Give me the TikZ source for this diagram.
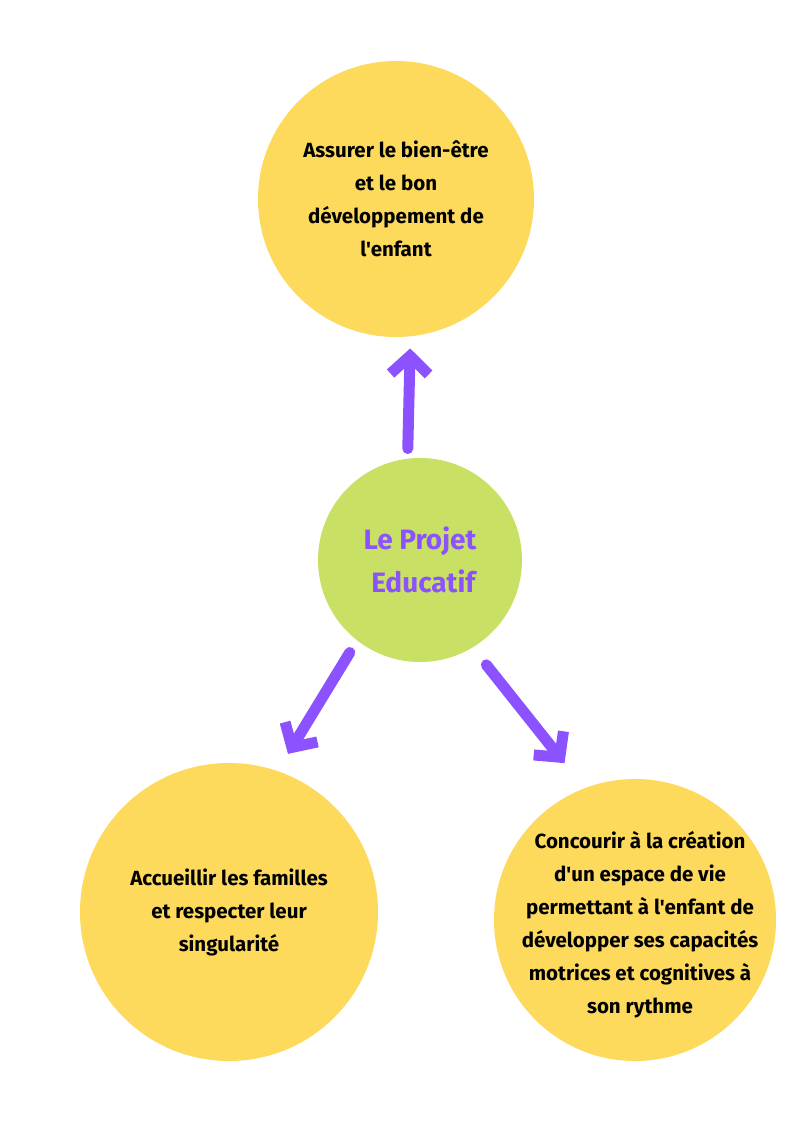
\documentclass[tikz,border=0pt]{standalone}
\usepackage{fontspec}
\setmainfont{Fira Sans}[Ligatures=TeXOff]
\usetikzlibrary{arrows.meta}
\definecolor{soleil}{HTML}{FDD95C}
\definecolor{pomme}{HTML}{C8E063}
\definecolor{lilas}{HTML}{8C52FF}

\begin{document}
\begin{tikzpicture}[x=1pt,y=-1pt,>={Straight Barb[length=18pt,width=38pt]},
  bulle/.style={circle,fill=soleil,inner sep=0pt},
  texte/.style={align=center,font=\bfseries\fontsize{20.5}{33}\selectfont},
  fleche/.style={->,lilas,line width=11pt,line cap=round,line join=round}]
\fill[white] (0,0) rectangle (794,1123);\useasboundingbox (0,0) rectangle (794,1123);
\node[bulle,minimum size=276pt] (bienetre) at (396,199){};
\node[texte] (bienetretxt) at (bienetre){Assurer le bien-être\\et le bon\\développement de\\l'enfant};
\node[circle,fill=pomme,minimum size=204pt,inner sep=0pt,align=center,text=lilas,font=\bfseries\fontsize{28}{43}\selectfont] (projet) at (420,560){Le Projet\\\ Educatif};
\node[bulle,minimum size=298pt] (familles) at (229,912){};
\node[texte] (famillestxt) at (familles){Accueillir les familles\\et respecter leur\\singularité};
\node[bulle,minimum size=282pt] (espace) at (635,920){};
\node[texte] (espacetxt) at (640,925){Concourir à la création\\d'un espace de vie\\permettant à l'enfant de\\développer ses capacités\\motrices et cognitives à\\son rythme};
\draw[fleche,shorten <=10pt,shorten >=12pt] (projet.97)--(bienetre.-84);
\draw[fleche,shorten <=14pt,shorten >=20pt] (projet.232)--(familles.71);
\draw[fleche,shorten <=22pt,shorten >=32pt] (projet.301)--(espace.111);
\end{tikzpicture}
\end{document}
